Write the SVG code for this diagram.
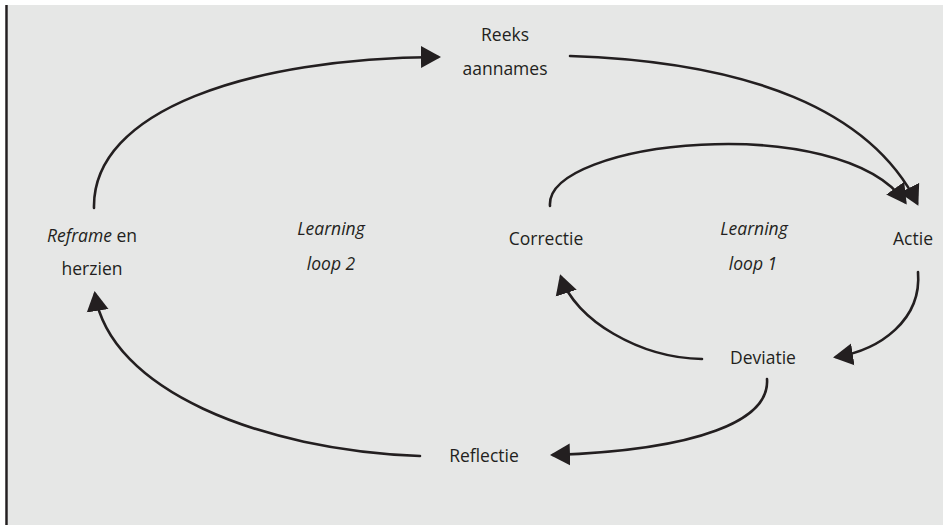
<svg xmlns="http://www.w3.org/2000/svg" width="943" height="525" viewBox="0 0 943 525">
<style>
.lbl{font-family:"Open Sans","Liberation Sans",sans-serif;font-size:17.5px;fill:#231f20;text-anchor:middle}
.it{font-style:italic}
.con{fill:none;stroke:#231f20;stroke-width:2.6;stroke-linecap:round}
</style>
<defs>
<marker id="ah" markerUnits="userSpaceOnUse" markerWidth="22" markerHeight="24" refX="17" refY="11" orient="auto" viewBox="0 0 22 22">
<path d="M0,0 L20,11 L0,22 z" fill="#231f20"/>
</marker>
</defs>
<rect x="0" y="0" width="943" height="525" fill="#ffffff"/>
<rect x="8" y="5" width="935" height="520" fill="#e6e7e6"/>
<line x1="6.5" y1="5" x2="6.5" y2="525" stroke="#231f20" stroke-width="2.5"/>
<g id="connectors">
<path class="con" marker-end="url(#ah)" d="M94 208 C92 110 250 58 438 57"/>
<path class="con" marker-end="url(#ah)" d="M570 56 C750 62 870 110 917 203"/>
<path class="con" marker-end="url(#ah)" d="M550 206 C545 140 840 110 905 202"/>
<path class="con" marker-end="url(#ah)" d="M918 272 C922 320 880 350 836 357"/>
<path class="con" marker-end="url(#ah)" d="M702 359 C640 358 575 320 561 277"/>
<path class="con" marker-end="url(#ah)" d="M767 379 C770 420 700 450 553 455"/>
<path class="con" marker-end="url(#ah)" d="M420 456 C260 450 110 390 95 294"/>
</g>
<g id="reeks"><text class="lbl" x="505" y="41">Reeks</text><text class="lbl" x="505" y="75">aannames</text></g>
<g id="actie"><text class="lbl" x="913" y="245">Actie</text></g>
<g id="correctie"><text class="lbl" x="546" y="245">Correctie</text></g>
<g id="deviatie"><text class="lbl" x="763" y="364">Deviatie</text></g>
<g id="reflectie"><text class="lbl" x="484" y="462">Reflectie</text></g>
<g id="reframe"><text class="lbl" x="92" y="242"><tspan class="it">Reframe</tspan> en</text><text class="lbl" x="92" y="275">herzien</text></g>
<g id="loop1"><text class="lbl it" x="754" y="235">Learning</text><text class="lbl it" x="753" y="270">loop 1</text></g>
<g id="loop2"><text class="lbl it" x="331" y="235">Learning</text><text class="lbl it" x="331" y="270">loop 2</text></g>
</svg>
